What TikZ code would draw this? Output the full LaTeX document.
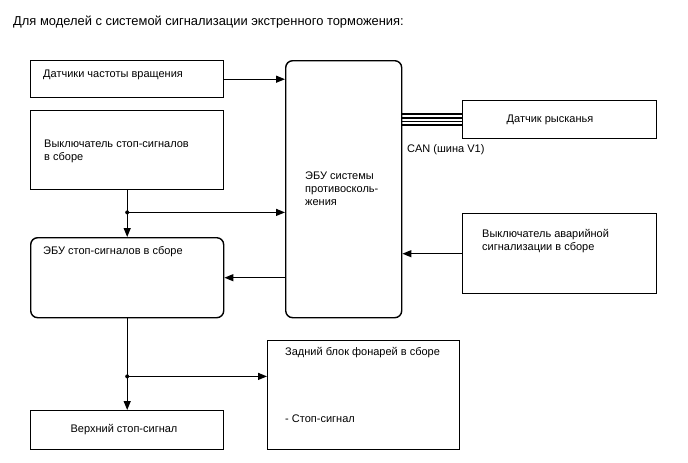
\documentclass[tikz,border=0pt]{standalone}
\usepackage{fontspec}
\setmainfont{Liberation Sans}
\usetikzlibrary{arrows.meta}
\begin{document}
\begin{tikzpicture}[x=1pt,y=-1pt,
  box/.style={draw=black,line width=1.4pt,minimum width=193pt,inner sep=0pt,anchor=north west},
  rbox/.style={box,rounded corners=7pt},
  lbl/.style={font=\fontsize{11}{13}\selectfont,inner sep=0pt,align=left,anchor=west},
  conn/.style={line width=1.2pt},
  arr/.style={conn,-{Triangle[length=9pt,width=7pt]}},
  dot/.style={circle,fill=black,inner sep=0pt,minimum size=4pt},
  bus/.style={line width=1.5pt}]
\useasboundingbox (0,0) rectangle (688,463);
\fill[white] (0,0) rectangle (688,463);

\node[lbl,font=\fontsize{12.9}{15}\selectfont] (title) at (13,22) {Для моделей с системой сигнализации экстренного торможения:};

% boxes
\node[box,minimum height=37pt] (b1) at (30,60) {};
\node[box,minimum height=79pt] (b2) at (30,110) {};
\node[rbox,minimum height=80pt] (ecu) at (30,237) {};
\node[rbox,minimum width=116pt,minimum height=257pt] (abs) at (285,60) {};
\node[box,minimum width=194pt,minimum height=38pt] (yaw) at (462,100) {};
\node[box,minimum width=194pt,minimum height=80pt] (haz) at (462,213) {};
\node[box,minimum height=39pt] (up) at (30,410) {};
\node[box,minimum width=192pt,minimum height=109pt] (rear) at (267,340) {};

% texts
\node[lbl] (t1) at (43,75) {Датчики частоты вращения};
\node[lbl] (t2) at (44,151.5) {Выключатель стоп-сигналов\\в сборе};
\node[lbl] (t3) at (43,252) {ЭБУ стоп-сигналов в сборе};
\node[lbl] (t4) at (305,189) {ЭБУ системы\\противосколь-\\жения};
\node[lbl,anchor=center] (t5) at (550,120) {Датчик рысканья};
\node[lbl] (can) at (407,150) {CAN (шина V1)};
\node[lbl] (t6) at (482,241) {Выключатель аварийной\\сигнализации в сборе};
\node[lbl,anchor=center] (t7) at (124,430) {Верхний стоп-сигнал};
\node[lbl] (t8) at (285,353) {Задний блок фонарей в сборе};
\node[lbl] (t9) at (285,419) {- Стоп-сигнал};

% connectors
\draw[arr] (b1.east) -- (b1.east -| abs.west);
\path (b2.south) ++(0,22) coordinate (j1);
\draw[conn] (b2.south) -- (j1);
\draw[arr] (j1) -- (ecu.north);
\draw[arr] (j1) -- (j1 -| abs.west);
\node[dot] (d1) at (j1) {};
\draw[arr] (ecu.east -| abs.west) -- (ecu.east);
\draw[arr] (haz.west) -- (haz.west -| abs.east);
\foreach \o in {-5.5,-1.8,1.8,5.5}
  \draw[bus] ([yshift=-\o pt]yaw.west -| abs.east) -- ([yshift=-\o pt]yaw.west);
\path (ecu.south) ++(0,58) coordinate (j2);
\draw[conn] (ecu.south) -- (j2);
\draw[arr] (j2) -- (up.north);
\draw[arr] (j2) -- (j2 -| rear.west);
\node[dot] (d2) at (j2) {};
\end{tikzpicture}
\end{document}
